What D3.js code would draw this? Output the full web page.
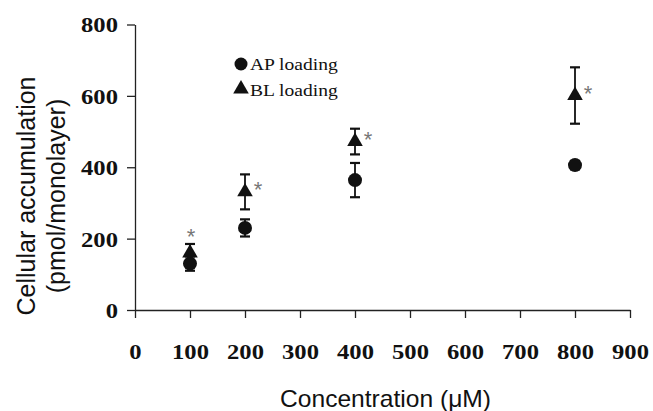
<!DOCTYPE html>
<html>
<head>
<meta charset="utf-8">
<script src="https://cdn.jsdelivr.net/npm/d3@7"></script>
<style>
  body { margin: 0; background: #fff; }
  svg { display: block; }
  .serif { font-family: 'Liberation Serif', 'Times New Roman', serif; }
  .sans { font-family: 'Liberation Sans', Arial, sans-serif; }
</style>
</head>
<body>
<div id="container"></div>
<script>
// data
const concentrations = [100, 200, 400, 800];
const apMean = [130, 230, 364, 406];
const apErr = [20, 24, 48, 12];
const blMean = [160, 331, 472, 601];
const blErr = [25, 49, 36, 79];
const blSignificant = [true, true, true, true];
const xTicks = [0, 100, 200, 300, 400, 500, 600, 700, 800, 900];
const yTicks = [0, 200, 400, 600, 800];
const legendLabels = ['AP loading', 'BL loading'];

const width = 653;
const height = 411;
const stretch = 1.12; // the original text is a little wide

const svg = d3.select('#container')
  .append('svg')
  .attr('width', width)
  .attr('height', height);

// scales
const x = d3.scaleLinear().domain([0, 900]).range([135, 630]);
const y = d3.scaleLinear().domain([0, 800]).range([310, 24.5]);

// axes
const xAxis = d3.axisBottom(x).tickValues(xTicks).tickSize(8).tickSizeOuter(0).tickFormat(d3.format('d'));
const yAxis = d3.axisLeft(y).tickValues(yTicks).tickSize(8).tickSizeOuter(0).tickFormat(d3.format('d'));

const gx = svg.append('g')
  .attr('transform', `translate(0,${y(0)})`)
  .call(xAxis);

const gy = svg.append('g')
  .attr('transform', `translate(${x(0)},0)`)
  .call(yAxis);

[gx, gy].forEach(g => {
  g.attr('font-family', null).attr('font-size', null);
  g.select('.domain').attr('stroke', '#222').attr('stroke-width', 1.3);
  g.selectAll('.tick line').attr('stroke', '#222').attr('stroke-width', 1.3);
  g.selectAll('.tick text')
    .attr('class', 'serif')
    .style('font-weight', 'bold')
    .style('font-size', '22px')
    .attr('fill', '#111');
});

gx.selectAll('.tick text')
  .attr('y', 0)
  .attr('dy', 0)
  .attr('transform', `translate(0,49) scale(${stretch},1)`);

gy.selectAll('.tick text')
  .attr('x', 0)
  .attr('dy', '0.34em')
  .attr('transform', `translate(-17,0) scale(${stretch},1)`);

// axis titles
svg.append('text')
  .attr('class', 'sans')
  .attr('transform', `translate(${x(450) + 3},407) scale(1.07,1)`)
  .attr('text-anchor', 'middle')
  .style('font-size', '23px')
  .attr('fill', '#111')
  .text('Concentration (μM)');

const yTitle = svg.append('text')
  .attr('class', 'sans')
  .attr('transform', 'translate(35,196) rotate(-90)')
  .attr('text-anchor', 'middle')
  .style('font-size', '25px')
  .attr('fill', '#111');
yTitle.append('tspan').attr('x', 0).attr('y', 0).text('Cellular accumulation');
yTitle.append('tspan').attr('x', 0).attr('y', 30).text('(pmol/monolayer)');

// error bars
const capHalf = 5;
const drawErrors = (means, errs, cls) => {
  const g = svg.append('g').attr('class', cls)
    .attr('stroke', '#111').attr('stroke-width', 1.8);
  concentrations.forEach((c, i) => {
    const cx = x(c);
    const top = y(means[i] + errs[i]);
    const bot = y(means[i] - errs[i]);
    g.append('line').attr('x1', cx).attr('x2', cx).attr('y1', top).attr('y2', bot);
    g.append('line').attr('x1', cx - capHalf).attr('x2', cx + capHalf).attr('y1', top).attr('y2', top).attr('stroke-width', 2.2);
    g.append('line').attr('x1', cx - capHalf).attr('x2', cx + capHalf).attr('y1', bot).attr('y2', bot).attr('stroke-width', 2.2);
  });
};

drawErrors(apMean, apErr, 'ap-err');
drawErrors(blMean, blErr, 'bl-err');

// AP points
svg.append('g').selectAll('circle')
  .data(concentrations)
  .join('circle')
  .attr('cx', d => x(d))
  .attr('cy', (d, i) => y(apMean[i]))
  .attr('r', 7)
  .attr('fill', '#111');

// BL points
const tri = d3.symbol(d3.symbolTriangle, 105);
svg.append('g').selectAll('path')
  .data(concentrations)
  .join('path')
  .attr('d', tri)
  .attr('transform', (d, i) => `translate(${x(d)},${y(blMean[i])})`)
  .attr('fill', '#111');

// significance stars
svg.append('g').selectAll('text')
  .data(concentrations.filter((d, i) => blSignificant[i]))
  .join('text')
  .attr('class', 'sans')
  .attr('x', d => d === 100 ? x(d) + 1 : x(d) + 13)
  .attr('y', d => {
    const k = concentrations.indexOf(d);
    return d === 100 ? y(blMean[k]) - 9 : y(blMean[k]) + 5;
  })
  .attr('text-anchor', 'middle')
  .style('font-size', '22px')
  .attr('fill', '#777')
  .text('*');

// legend
const legend = svg.append('g');
legend.append('circle').attr('cx', 241).attr('cy', 64).attr('r', 6.5).attr('fill', '#111');
legend.append('path').attr('d', tri).attr('transform', 'translate(241,89)').attr('fill', '#111');
legend.selectAll('text')
  .data(legendLabels)
  .join('text')
  .attr('class', 'serif')
  .attr('transform', (d, i) => `translate(250,${70 + i * 26}) scale(1.15,1)`)
  .style('font-size', '17px')
  .attr('fill', '#111')
  .text(d => d);
</script>
</body>
</html>
